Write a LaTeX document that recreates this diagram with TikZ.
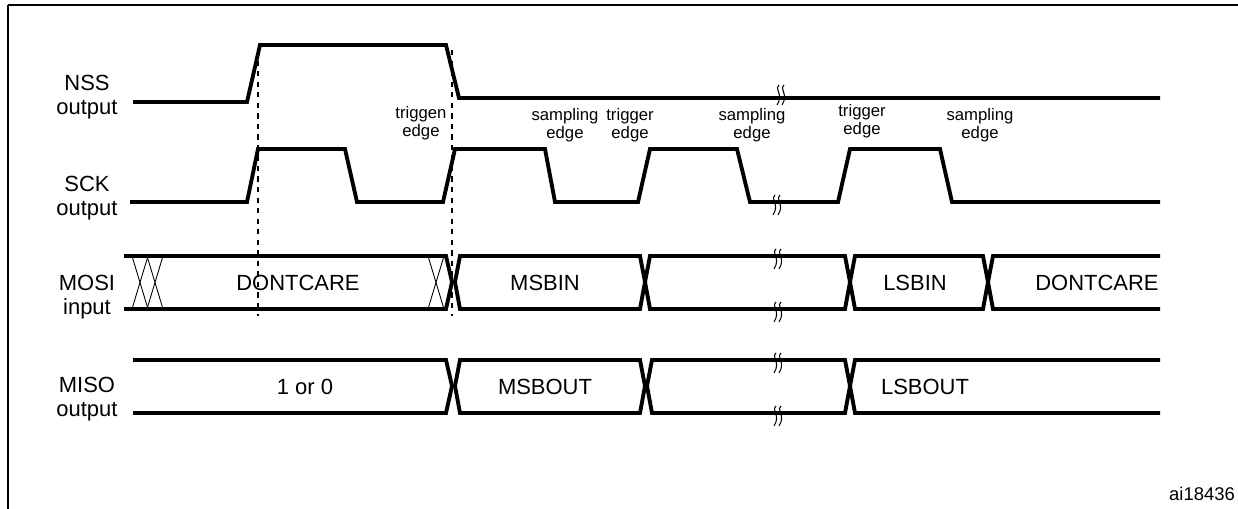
\documentclass[tikz,border=0pt]{standalone}
\usepackage{fontspec}
\setmainfont{Liberation Sans}
\tikzset{sig/.style={line width=2.2pt,line join=miter},
  hatch/.style={line width=0.5pt},
  lbl/.style={font=\fontsize{12.5}{14}\selectfont,align=center},
  edgelbl/.style={font=\fontsize{9.5}{10.5}\selectfont,align=center,inner sep=0pt},
  brk/.style={line width=0.6pt}}
\newcommand{\brkmark}[2]{\draw[brk] (#1-1,#2-11) .. controls (#1-6,#2-6) and (#1+4,#2-2) .. (#1-3,#2+9);
  \draw[brk] (#1+4,#2-11) .. controls (#1-1,#2-6) and (#1+9,#2-2) .. (#1+2,#2+9);}
\begin{document}
\begin{tikzpicture}[x=0.02cm,y=-0.02cm]
			\useasboundingbox (0,0) rectangle (1238,509);
			\draw[line width=1pt] (8,5) -- (1240,5);
			\draw[line width=1pt] (8,5) -- (8,512);
			% signal names
			\node[lbl] (nss) at (87,97) {NSS\\output};
			\node[lbl] (sck) at (87,198) {SCK\\output};
			\node[lbl] (mosi) at (87,297) {MOSI\\input};
			\node[lbl] (miso) at (87,399) {MISO\\output};
			% NSS
			\draw[sig] (133,102) -- (247,102) -- (260,45) -- (446,45) -- (459,98) -- (1160,98);
			\brkmark{780}{96}
			% SCK
			\draw[sig] (130,202) -- (247,202) -- (258,149) -- (345,149) -- (357,202) -- (443,202)
			  -- (455,149) -- (545,149) -- (555,202) -- (638,202) -- (650,149) -- (737,149) -- (750,202)
			  -- (838,202) -- (850,149) -- (940,149) -- (952,202) -- (1160,202);
			\brkmark{776}{206}
			% dashed guides
			\draw[dashed,line width=0.8pt] (258,50) -- (258,316);
			\draw[dashed,line width=0.8pt] (452,50) -- (452,316);
			% MOSI
			\draw[sig] (124,256) -- (446,256) -- (452,282) -- (446,309) -- (124,309);
			\foreach \a/\b in {460/640,650/845,855/983}
			  \draw[sig] (\a,256) -- (\b,256) -- (\b+5,282) -- (\b,309) -- (\a,309) -- (\a-5,282) -- cycle;
			\draw[sig] (1160,256) -- (993,256) -- (988,282) -- (993,309) -- (1160,309);
			\foreach \x in {132,147,428}
			  \draw[hatch] (\x,256) -- (\x+16,309) (\x+16,256) -- (\x,309);
			\brkmark{777}{260}
			\brkmark{777}{313}
			\node[lbl] (dc1) at (298,283) {DONTCARE};
			\node[lbl] (msbin) at (545,283) {MSBIN};
			\node[lbl] (lsbin) at (915,283) {LSBIN};
			\node[lbl] (dc2) at (1097,283) {DONTCARE};
			% MISO
			\draw[sig] (133,360) -- (446,360) -- (452,386) -- (446,413) -- (133,413);
			\foreach \a/\b in {460/640,652/845}
			  \draw[sig] (\a,360) -- (\b,360) -- (\b+5,386) -- (\b,413) -- (\a,413) -- (\a-5,386) -- cycle;
			\draw[sig] (1160,360) -- (855,360) -- (850,386) -- (855,413) -- (1160,413);
			\brkmark{777}{364}
			\brkmark{777}{417}
			\node[lbl] (onezero) at (305,387) {1 or 0};
			\node[lbl] (msbout) at (545,387) {MSBOUT};
			\node[lbl] (lsbout) at (925,387) {LSBOUT};
			% edge labels
			\node[edgelbl] (tr1) at (421,123) {triggen\\edge};
			\node[edgelbl] (sa1) at (565,125) {sampling\\edge};
			\node[edgelbl] (tr2) at (630,125) {trigger\\edge};
			\node[edgelbl] (sa2) at (752,125) {sampling\\edge};
			\node[edgelbl] (tr3) at (862,121) {trigger\\edge};
			\node[edgelbl] (sa3) at (980,125) {sampling\\edge};
			\node[edgelbl,font=\fontsize{10.5}{11}\selectfont] (fig) at (1202,494) {ai18436};
		\end{tikzpicture}
\end{document}
